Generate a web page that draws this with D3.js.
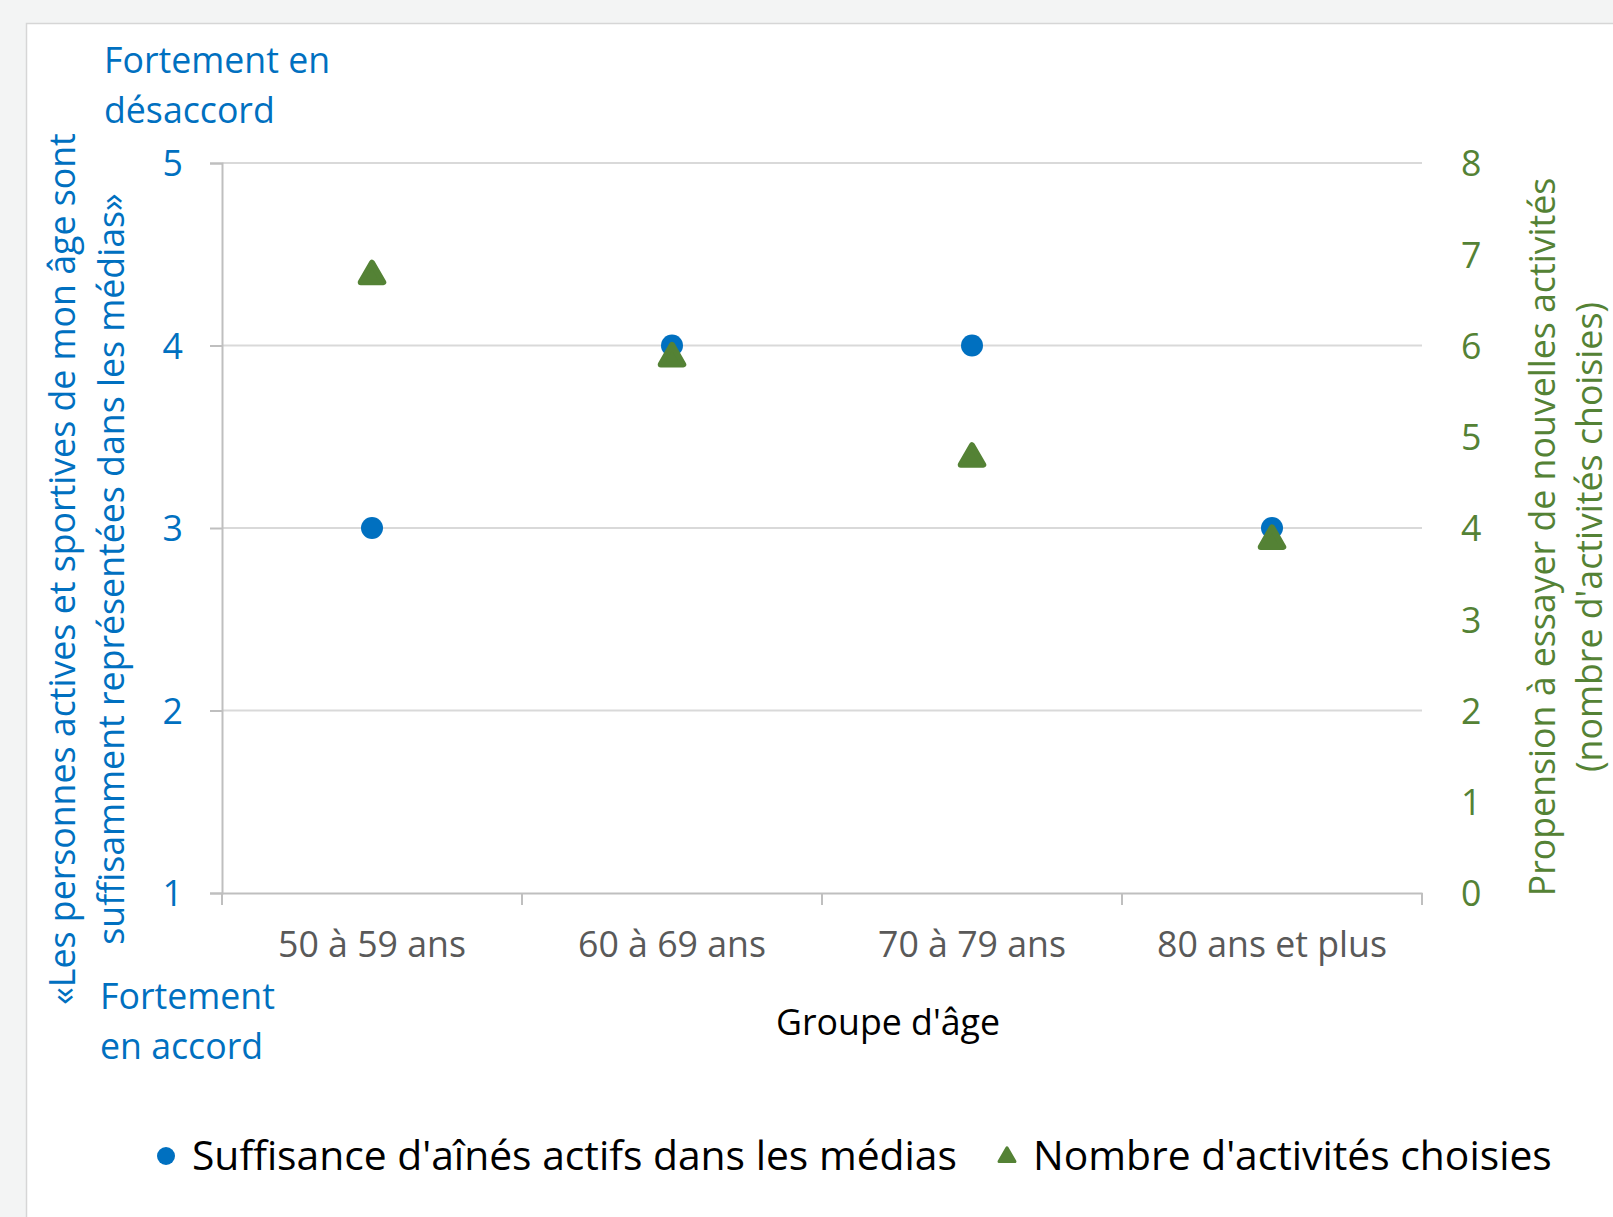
<!DOCTYPE html>
<html>
<head>
<meta charset="utf-8">
<script src="https://cdn.jsdelivr.net/npm/d3@7"></script>
<style>
  html, body { margin: 0; padding: 0; background: #f3f4f4; }
  svg { display: block; }
  text { font-family: "Open Sans", Lato, sans-serif; }
</style>
</head>
<body>
<div id="chart"></div>
<script>
// Age groups and the two series
const groups = ["50 à 59 ans", "60 à 69 ans", "70 à 79 ans", "80 ans et plus"];
const suffisance = [3, 4, 4, 3];          // left axis (1-5)
const nbActivites = [6.8, 5.9, 4.8, 3.9]; // right axis (0-8)
const leftTicks = [1, 2, 3, 4, 5];
const rightTicks = [0, 1, 2, 3, 4, 5, 6, 7, 8];

const width = 1613, height = 1217;
const blue = "#0070c0", green = "#548235", grid = "#d9d9d9";
const plot = { left: 222, right: 1422, top: 163, bottom: 893 };
const fs = "35.7px";

const svg = d3.select("#chart").append("svg")
  .attr("width", width)
  .attr("height", height);

// white panel
svg.append("rect")
  .attr("x", 26.5).attr("y", 23.5)
  .attr("width", width).attr("height", height)
  .attr("fill", "#fff")
  .attr("stroke", "#d6d6d6")
  .attr("stroke-width", 1.5);

const x = d3.scaleBand().domain(groups).range([plot.left, plot.right]);
const yL = d3.scaleLinear().domain([1, 5]).range([plot.bottom, plot.top]);
const yR = d3.scaleLinear().domain([0, 8]).range([plot.bottom, plot.top]);

// gridlines
svg.append("g")
  .selectAll("line")
  .data(leftTicks.slice(1))
  .join("line")
  .attr("x1", plot.left).attr("x2", plot.right)
  .attr("y1", d => yL(d)).attr("y2", d => yL(d))
  .attr("stroke", grid).attr("stroke-width", 2);

// left axis
const axL = svg.append("g")
  .attr("transform", `translate(${plot.left},0)`)
  .call(d3.axisLeft(yL).tickValues(leftTicks).tickFormat(d3.format("d"))
    .tickSize(12).tickPadding(27));
axL.select(".domain").attr("stroke", "#bfbfbf").attr("stroke-width", 2);
axL.selectAll(".tick line").attr("stroke", "#bfbfbf").attr("stroke-width", 2);
axL.selectAll(".tick text")
  .attr("fill", blue).style("font-size", fs).attr("dy", "0.36em");

// right axis (labels only)
const axR = svg.append("g")
  .attr("transform", `translate(${plot.right},0)`)
  .call(d3.axisRight(yR).tickValues(rightTicks).tickSize(0).tickPadding(39));
axR.select(".domain").remove();
axR.selectAll(".tick text")
  .attr("fill", green).style("font-size", fs).attr("dy", "0.36em");

// bottom axis
const axB = svg.append("g")
  .attr("transform", `translate(0,${plot.bottom})`)
  .call(d3.axisBottom(x).tickSize(0).tickPadding(39));
axB.select(".domain").attr("stroke", "#bfbfbf").attr("stroke-width", 2);
axB.selectAll(".tick text")
  .attr("fill", "#595959").style("font-size", fs);
// category boundary ticks
axB.append("g")
  .selectAll("line")
  .data(d3.range(groups.length + 1))
  .join("line")
  .attr("x1", i => plot.left + i * x.step())
  .attr("x2", i => plot.left + i * x.step())
  .attr("y1", 0).attr("y2", 12)
  .attr("stroke", "#bfbfbf").attr("stroke-width", 2);

const cx = d => x(d) + x.bandwidth() / 2;

// blue circles
svg.append("g")
  .selectAll("circle")
  .data(groups)
  .join("circle")
  .attr("cx", d => cx(d))
  .attr("cy", (d, i) => yL(suffisance[i]))
  .attr("r", 11)
  .attr("fill", blue);

// green triangles (shifted so the box centre sits on the value)
const triSize = 220;
const triOff = Math.sqrt(triSize / (3 * Math.sqrt(3))) / 2;
const tri = d3.symbol().type(d3.symbolTriangle).size(triSize);
svg.append("g")
  .selectAll("path")
  .data(groups)
  .join("path")
  .attr("transform", (d, i) => `translate(${cx(d)},${yR(nbActivites[i]) + triOff})`)
  .attr("d", tri)
  .attr("fill", green)
  .attr("stroke", green)
  .attr("stroke-width", 6)
  .attr("stroke-linejoin", "round");

// left axis annotations
svg.append("text").attr("x", 104).attr("y", 73)
  .attr("fill", blue).style("font-size", fs).text("Fortement en");
svg.append("text").attr("x", 104).attr("y", 123)
  .attr("fill", blue).style("font-size", fs).text("désaccord");
svg.append("text").attr("x", 100).attr("y", 1009)
  .attr("fill", blue).style("font-size", fs).text("Fortement");
svg.append("text").attr("x", 100).attr("y", 1059)
  .attr("fill", blue).style("font-size", fs).text("en accord");

// left axis title
const lt = svg.append("text")
  .attr("transform", "translate(75,569) rotate(-90)")
  .attr("text-anchor", "middle")
  .attr("fill", blue).style("font-size", fs);
lt.append("tspan").attr("x", 0).attr("y", 0)
  .text("«Les personnes actives et sportives de mon âge sont");
lt.append("tspan").attr("x", 0).attr("y", 49)
  .text("suffisamment représentées dans les médias»");

// right axis title
const rt = svg.append("text")
  .attr("transform", "translate(1555,537) rotate(-90)")
  .attr("text-anchor", "middle")
  .attr("fill", green).style("font-size", fs);
rt.append("tspan").attr("x", 0).attr("y", 0)
  .text("Propension à essayer de nouvelles activités");
rt.append("tspan").attr("x", 0).attr("y", 47)
  .text("(nombre d'activités choisies)");

// x axis title
svg.append("text")
  .attr("x", 888).attr("y", 1035)
  .attr("text-anchor", "middle")
  .attr("fill", "#000").style("font-size", fs)
  .text("Groupe d'âge");

// legend
const lg = svg.append("g").attr("transform", "translate(0,1156)");
lg.append("circle").attr("cx", 166).attr("cy", 0).attr("r", 9).attr("fill", blue);
lg.append("text").attr("x", 192).attr("y", 0).attr("dy", "0.35em")
  .style("font-size", "40.8px").attr("fill", "#000")
  .text("Suffisance d'aînés actifs dans les médias");
lg.append("path")
  .attr("transform", "translate(1007,1)")
  .attr("d", d3.symbol().type(d3.symbolTriangle).size(110))
  .attr("fill", green).attr("stroke", green)
  .attr("stroke-width", 3).attr("stroke-linejoin", "round");
lg.append("text").attr("x", 1033).attr("y", 0).attr("dy", "0.35em")
  .style("font-size", "40.8px").attr("fill", "#000")
  .text("Nombre d'activités choisies");
</script>
</body>
</html>
